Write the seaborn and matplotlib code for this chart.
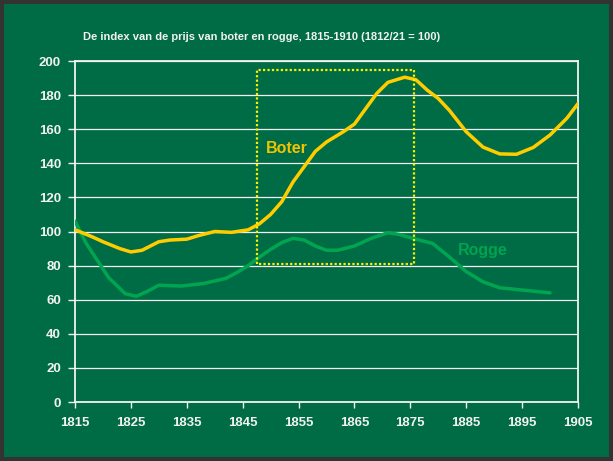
"""
Index of butter and rye prices, 1815-1910 (1812/21 = 100).
"""

import pandas as pd
import matplotlib.pyplot as plt
import seaborn as sns


# ─────────────────────────────────────────────
# Data
# ─────────────────────────────────────────────

boter_years = [1815, 1818, 1820, 1823, 1825, 1827, 1830, 1832, 1835, 1837,
               1840, 1843, 1846, 1848, 1850, 1852, 1854, 1856, 1858, 1860,
               1863, 1865, 1867, 1869, 1871, 1874, 1876, 1878, 1880, 1882,
               1885, 1888, 1891, 1894, 1897, 1900, 1903, 1905]
boter_index = [101, 97, 94, 90, 88, 89, 94, 95, 95.5, 97.5,
               100, 99.5, 101, 104.5, 110, 117.5, 129, 138, 147, 152.5,
               158.5, 163, 172, 181, 187.5, 190.5, 189, 183, 178, 171,
               158.5, 149.5, 145.5, 145.3, 149.3, 156.6, 166.4, 175]

rogge_years = [1815, 1817, 1819, 1821, 1824, 1826, 1828, 1830, 1834, 1838,
               1842, 1844, 1846, 1848, 1850, 1852, 1854, 1856, 1858, 1860,
               1862, 1865, 1868, 1871, 1873, 1876, 1879, 1882, 1885, 1888,
               1891, 1894, 1897, 1900]
rogge_index = [106, 93, 83, 73, 63.5, 62, 65, 68.5, 68, 69.5,
               72.5, 76, 80, 85, 89.5, 93.5, 96, 95, 91.5, 89,
               89, 91.5, 96, 99.3, 98.3, 95.5, 93, 85, 76.5, 70.5,
               67, 66, 65, 64]

box_years = [1847.5, 1875.7]
box_range = [81, 194.5]

x_ticks = list(range(1815, 1906, 10))
y_ticks = list(range(0, 201, 20))

title = "De index van de prijs van boter en rogge, 1815-1910 (1812/21 = 100)"

# ─────────────────────────────────────────────
# Style
# ─────────────────────────────────────────────

bg     = "#006C45"
yellow = "#FFCC00"
green  = "#00A550"
white  = "#F2F2F2"

sns.set_style("white")
plt.rcParams["font.family"] = ["Liberation Sans", "DejaVu Sans"]
plt.rcParams["font.weight"] = "bold"

fig = plt.figure(figsize=(6.13, 4.61), dpi=100)
fig.patch.set_facecolor(bg)
fig.patch.set_edgecolor("#333333")
fig.patch.set_linewidth(4.5)

ax = fig.add_axes([75 / 613, 59 / 461, 503 / 613, 341 / 461])
ax.set_facecolor(bg)

boter = pd.DataFrame({"jaar": boter_years, "index": boter_index})
rogge = pd.DataFrame({"jaar": rogge_years, "index": rogge_index})

sns.lineplot(data=rogge, x="jaar", y="index", color=green, lw=2.5, ax=ax,
             zorder=3, solid_joinstyle="round", solid_capstyle="round")
sns.lineplot(data=boter, x="jaar", y="index", color=yellow, lw=2.5, ax=ax,
             zorder=4, solid_joinstyle="round", solid_capstyle="round")

# dotted highlight box
bx = [box_years[0], box_years[0], box_years[1], box_years[1], box_years[0]]
by = [box_range[0], box_range[1], box_range[1], box_range[0], box_range[0]]
ax.plot(bx, by, color="#FFEE00", lw=1.6, ls=(0, (1, 1)), zorder=5)

ax.text(1849.2, 148.5, "Boter", color="#F0C400", fontsize=11.5,
        fontweight="bold", va="center")
ax.text(1883.5, 88.7, "Rogge", color="#00A34E", fontsize=11.5,
        fontweight="bold", va="center")

ax.set_xlim(1815, 1905)
ax.set_ylim(0, 200)
ax.set_xticks(x_ticks)
ax.set_yticks(y_ticks)
ax.set_xlabel("")
ax.set_ylabel("")
ax.grid(axis="y", color=white, lw=0.9)
ax.tick_params(axis="x", colors=white, labelcolor=white, length=4, width=1,
               pad=7, labelsize=9.5, direction="out", bottom=True)
ax.tick_params(axis="y", colors=white, labelcolor=white, length=5, width=1,
               pad=5, labelsize=9.5, direction="out", left=True)
for s in ax.spines.values():
    s.set_color(white)
    s.set_linewidth(1.3)

fig.text(261.5 / 613, 1 - 37 / 461, title, color=white, fontsize=8,
         fontweight="bold", ha="center", va="center")

plt.savefig("out.png", dpi=100, facecolor=fig.get_facecolor(),
            edgecolor=fig.get_edgecolor())
plt.close()
